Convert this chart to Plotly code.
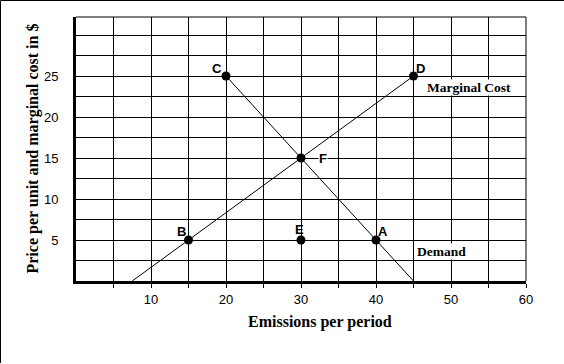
import plotly.graph_objects as go

# Data
mc_x = [7.5, 15, 30, 45]
mc_y = [0, 5, 15, 25]
demand_x = [20, 30, 40, 45]
demand_y = [25, 15, 5, 0]
point_labels = ["A", "B", "C", "D", "E", "F"]
point_x = [40, 15, 20, 45, 30, 30]
point_y = [5, 5, 25, 25, 5, 15]
x_ticks = [5, 10, 15, 20, 25, 30, 35, 40, 45, 50, 55, 60]
x_ticktext = ["", "10", "", "20", "", "30", "", "40", "", "50", "", "60"]
y_ticks = [2.5, 5, 7.5, 10, 12.5, 15, 17.5, 20, 22.5, 25, 27.5, 30]
y_ticktext = ["", "5", "", "10", "", "15", "", "20", "", "25", "", ""]
mc_label = "Marginal Cost"
demand_label = "Demand"

W, H = 564, 364
L, R, T, B = 76, 38, 17, 83
pw, ph = W - L - R, H - T - B

fig = go.Figure()
fig.add_trace(go.Scatter(x=mc_x, y=mc_y, mode="lines",
                         line=dict(color="black", width=1), hoverinfo="skip"))
fig.add_trace(go.Scatter(x=demand_x, y=demand_y, mode="lines",
                         line=dict(color="black", width=1), hoverinfo="skip"))
fig.add_trace(go.Scatter(x=point_x, y=point_y, mode="markers",
                         marker=dict(color="black", size=9), hoverinfo="skip"))

offsets = {"A": (7, 9), "B": (-7, 9), "C": (-9, 8), "D": (7, 8), "E": (-2, 11), "F": (22, 0)}
for lab, px, py in zip(point_labels, point_x, point_y):
    dx, dy = offsets[lab]
    fig.add_annotation(x=px, y=py, text="<b>" + lab + "</b>", showarrow=False, xshift=dx, yshift=dy,
                       font=dict(family="Liberation Sans", size=13, color="black"),
                       bgcolor="white" if lab == "F" else "rgba(0,0,0,0)", borderpad=0)

fig.add_annotation(x=46.6, y=23.65, text="<b>" + mc_label + "</b>", showarrow=False, xanchor="left",
                   font=dict(family="Liberation Serif", size=13.5, color="black"),
                   bgcolor="white", borderpad=0)
fig.add_annotation(x=45.3, y=3.6, text="<b>" + demand_label + "</b>", showarrow=False, xanchor="left",
                   font=dict(family="Liberation Serif", size=13.5, color="black"),
                   bgcolor="white", borderpad=0)

# Axis titles
fig.add_annotation(xref="paper", yref="paper", x=(21 - L) / pw, y=(H - B - 148.5) / ph,
                   text="<b>Price per unit and marginal cost in $</b>", textangle=-90,
                   showarrow=False, font=dict(family="Liberation Serif", size=16, color="black"))
fig.add_annotation(xref="paper", yref="paper", x=(319.5 - L) / pw, y=(H - B - 332.7) / ph,
                   text="<b>Emissions per period</b>", showarrow=False,
                   font=dict(family="Liberation Serif", size=16, color="black"))

# borders of plot area (top and right thin)
fig.add_shape(type="line", xref="paper", yref="paper", x0=0, x1=1, y0=1, y1=1,
              line=dict(color="black", width=1))
fig.add_shape(type="line", xref="paper", yref="paper", x0=1, x1=1, y0=0, y1=1,
              line=dict(color="black", width=1))
# outer image border (top and left)
fig.add_shape(type="line", xref="paper", yref="paper", x0=(0.5 - L) / pw, x1=(W - L) / pw,
              y0=(H - B - 0.5) / ph, y1=(H - B - 0.5) / ph, line=dict(color="black", width=1))
fig.add_shape(type="line", xref="paper", yref="paper", x0=(0.5 - L) / pw, x1=(0.5 - L) / pw,
              y0=(H - B - 0.5) / ph, y1=(H - B - 363) / ph, line=dict(color="black", width=1))

fig.update_xaxes(range=[0, 60], tickvals=x_ticks, ticktext=x_ticktext,
                 showgrid=True, gridcolor="black", gridwidth=1, zeroline=False,
                 showline=True, linecolor="black", linewidth=3,
                 ticks="outside", ticklen=4, tickcolor="black", tickwidth=1,
                 tickfont=dict(family="Liberation Sans", size=13, color="black"),
                 fixedrange=True)
fig.update_yaxes(range=[0, 32.2], tickvals=y_ticks, ticktext=y_ticktext,
                 showgrid=True, gridcolor="black", gridwidth=1, zeroline=False,
                 showline=True, linecolor="black", linewidth=3, ticks="",
                 ticklabelstandoff=12,
                 tickfont=dict(family="Liberation Sans", size=13, color="black"),
                 fixedrange=True)

fig.update_layout(width=W, height=H, margin=dict(l=L, r=R, t=T, b=B),
                  plot_bgcolor="white", paper_bgcolor="white", showlegend=False)

fig.write_html("out.html", config={"displayModeBar": False},
               post_script="document.body.style.margin='0';document.body.style.overflow='hidden';")
